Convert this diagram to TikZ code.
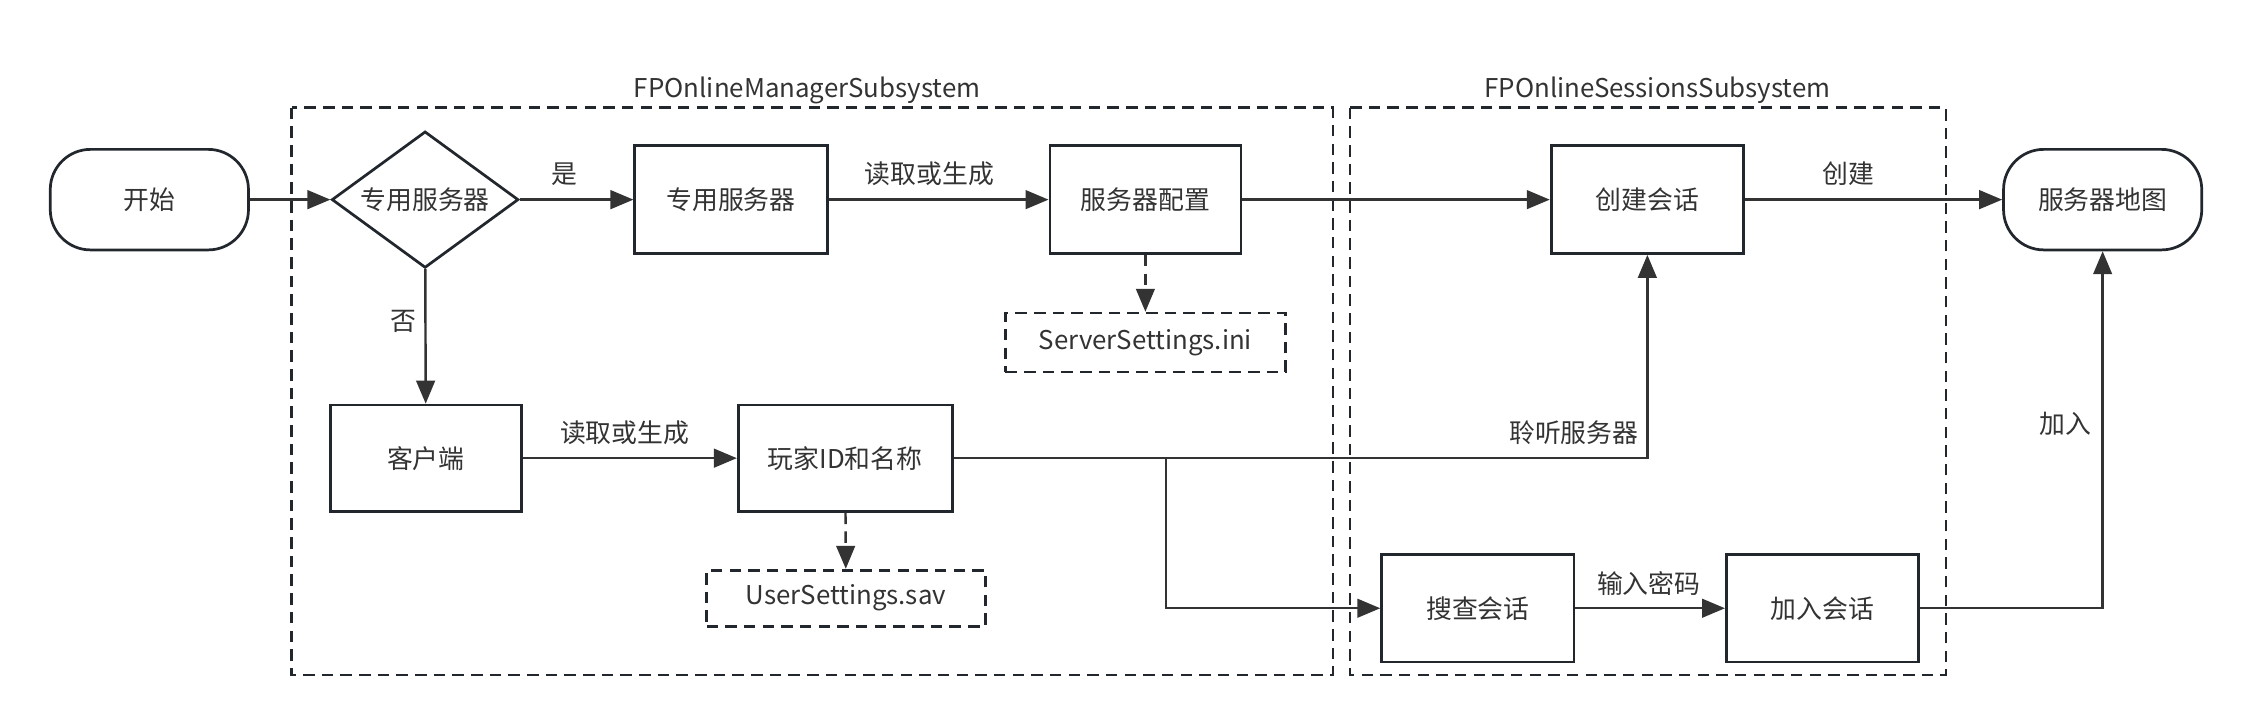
\documentclass[tikz,border=0pt]{standalone}
\usepackage{fontspec}
\setmainfont{Noto Sans CJK SC}
\usetikzlibrary{arrows.meta,shapes.geometric}
\definecolor{linegray}{HTML}{333333}
\definecolor{boxgray}{HTML}{22272E}

\begin{document}
\begin{tikzpicture}[x=1pt,y=-1pt]
\tikzset{box/.style = {shape=rectangle,draw=boxgray,line width=1.9pt,minimum width=134pt,minimum height=75pt,inner sep=0pt,text=linegray,font=\fontsize{18}{21}\selectfont}}
\tikzset{term/.style = {box,rounded corners=28pt,minimum width=138pt,minimum height=70pt}}
\tikzset{decision/.style = {box,shape=diamond,aspect=1.36,minimum width=130pt,minimum height=95pt}}
\tikzset{filebox/.style = {box,dash pattern=on 8pt off 5pt,minimum width=195pt,minimum height=41pt}}
\tikzset{group/.style = {draw=boxgray,line width=1.7pt,dash pattern=on 8pt off 5pt}}
\tikzset{lbl/.style = {inner sep=0pt,text=linegray,font=\fontsize{18}{21}\selectfont}}
\tikzset{edge/.style = {draw=linegray,line width=1.7pt,-{Triangle[length=16pt,width=13pt]}}}
\tikzset{dashedge/.style = {edge,dash pattern=on 8pt off 5pt}}
\useasboundingbox (0,0) rectangle (1568,505.5);
% subsystems
\draw[group] (203,75) rectangle (928,470);
\draw[group] (940,75) rectangle (1355,470);
\node[lbl] (mgrname) at (562,63) {FPOnlineManagerSubsystem};
\node[lbl] (sesname) at (1154,63) {FPOnlineSessionsSubsystem};
% vertices
\node[term] (start) at (104,139) {开始};
\node[decision] (dedq) at (296,139) {专用服务器};
\node[box] (ded) at (509,139) {专用服务器};
\node[box,minimum width=133pt] (cfg) at (797.5,139) {服务器配置};
\node[filebox] (ini) at (797.5,238.5) {ServerSettings.ini};
\node[box] (create) at (1147,139) {创建会话};
\node[term] (map) at (1464,139) {服务器地图};
\node[box,minimum width=133pt,minimum height=74pt] (client) at (296.5,319) {客户端};
\node[box,minimum width=149pt,minimum height=74pt] (player) at (588.5,319) {玩家ID和名称};
\node[filebox,minimum width=194pt,minimum height=39pt] (sav) at (589,416.5) {UserSettings.sav};
\node[box] (search) at (1029,423.5) {搜查会话};
\node[box] (join) at (1269,423.5) {加入会话};
\coordinate (fork) at (812,319);
%edges
\draw[edge] (start) to (dedq);
\draw[edge] (dedq) to (ded);
\draw[edge] (dedq) to (client);
\draw[edge] (ded) to (cfg);
\draw[edge] (cfg) to (create);
\draw[dashedge] (cfg) to (ini);
\draw[edge] (create) to (map);
\draw[edge] (client) to (player);
\draw[dashedge] (player) to (sav);
\draw[edge] (player.east) -| (create.south);
\draw[edge] (fork) |- (search.west);
\draw[edge] (search) to (join);
\draw[edge] (join.east) -| (map.south);
% edge labels
\node[lbl] (yes) at (393,121) {是};
\node[lbl] (no) at (281,224) {否};
\node[lbl] (readcfg) at (647,121) {读取或生成};
\node[lbl] (made) at (1287,121) {创建};
\node[lbl] (readid) at (435,301) {读取或生成};
\node[lbl,anchor=east] (listen) at (1141,301) {聆听服务器};
\node[lbl] (joined) at (1438,295) {加入};
\node[lbl] (pwd) at (1148,406) {输入密码};
\end{tikzpicture}
\end{document}
